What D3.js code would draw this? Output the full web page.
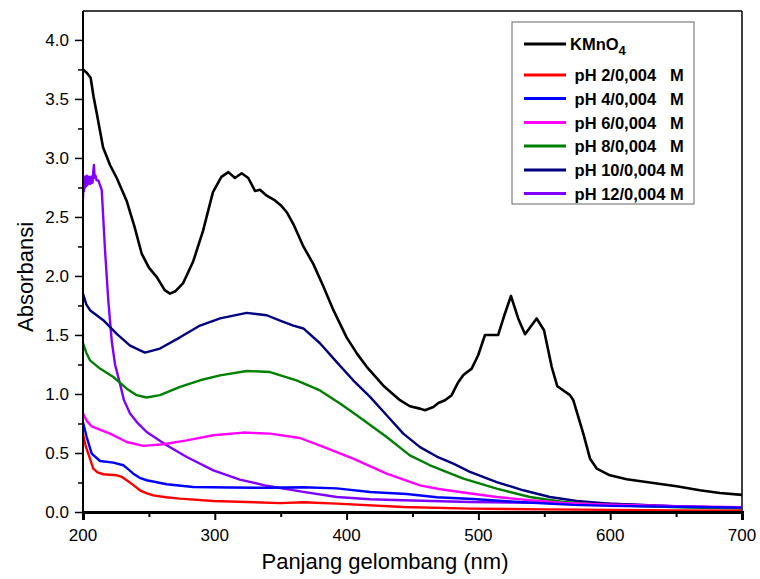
<!DOCTYPE html>
<html>
<head>
<meta charset="utf-8">
<script src="https://cdn.jsdelivr.net/npm/d3@7"></script>
<style>
  body { margin: 0; background: #fff; }
  text { font-family: "Liberation Sans", Arial, sans-serif; }
</style>
</head>
<body>
<div id="chart"></div>
<script>
// data (wavelength nm, absorbance)
var kmno4 = [[200,3.75],[203,3.72],[205.8,3.68],[208,3.52],[210.4,3.38],[215.2,3.09],[220.5,2.94],[225.6,2.83],[233,2.64],[239,2.42],[244.5,2.19],[250,2.07],[256,1.99],[262,1.88],[266,1.85],[270,1.87],[276,1.94],[283.5,2.12],[291,2.38],[298.6,2.71],[305,2.84],[310.3,2.88],[315.3,2.83],[320.4,2.87],[325.4,2.83],[330.5,2.72],[334.3,2.73],[339.4,2.68],[345.7,2.64],[350,2.6],[354.6,2.54],[359.6,2.44],[367.2,2.25],[374.8,2.1],[382.4,1.91],[390,1.71],[400,1.48],[408,1.34],[415.3,1.23],[427.9,1.07],[440.5,0.947],[448,0.896],[455.7,0.876],[459.5,0.862],[465.8,0.89],[469.6,0.924],[474.7,0.947],[479.7,0.99],[484.7,1.1],[488.6,1.16],[494.9,1.215],[499.9,1.33],[505,1.5],[515,1.5],[520.1,1.68],[524.7,1.83],[530.2,1.64],[535.4,1.506],[544.2,1.64],[549.8,1.54],[555.6,1.23],[559.9,1.065],[569.5,0.99],[572,0.947],[575.8,0.805],[579.6,0.664],[584.7,0.452],[589.8,0.368],[599.8,0.311],[612.5,0.277],[632.7,0.246],[650.4,0.218],[668,0.184],[683.2,0.161],[700,0.145]];

var ph2 = [[200,0.66],[202,0.56],[204,0.495],[207.8,0.368],[211,0.335],[215.4,0.32],[225.6,0.311],[229,0.3],[233.2,0.269],[238,0.23],[243.2,0.184],[248,0.16],[253.3,0.141],[263,0.125],[273.6,0.113],[298.9,0.093],[324.2,0.085],[349.5,0.075],[367.2,0.082],[392.5,0.071],[443,0.042],[493.6,0.029],[550,0.022],[600,0.018],[650,0.014],[700,0.012]];

var ph4 = [[200,0.76],[202.8,0.635],[206.6,0.495],[212.9,0.432],[223,0.418],[230.6,0.396],[234,0.365],[238.2,0.325],[243,0.29],[248.3,0.269],[263.5,0.235],[283.7,0.212],[311.5,0.207],[339.4,0.205],[367.2,0.21],[392.5,0.2],[417.8,0.17],[445.6,0.152],[468.4,0.125],[496,0.11],[530,0.085],[572,0.06],[600,0.052],[650,0.044],[700,0.037]];

var ph6 = [[200,0.835],[203,0.77],[206.6,0.726],[220.5,0.664],[233.2,0.593],[245.8,0.56],[261,0.574],[278.7,0.607],[298.9,0.65],[321.6,0.673],[341.9,0.664],[364.6,0.627],[382.4,0.551],[405,0.452],[430.4,0.325],[455.7,0.226],[470,0.195],[488.6,0.165],[513.9,0.127],[539,0.1],[564.4,0.076],[600,0.062],[650,0.05],[700,0.04]];

var ph8 = [[200,1.43],[202.5,1.35],[205.3,1.285],[212.9,1.215],[223,1.144],[233.2,1.045],[240.7,0.99],[248.3,0.97],[258.4,0.99],[273.6,1.06],[288.8,1.116],[304,1.158],[324.2,1.195],[341.9,1.186],[362,1.116],[379.8,1.03],[395,0.92],[407.7,0.82],[430.4,0.636],[448,0.48],[463.3,0.396],[488.6,0.283],[513.9,0.198],[539,0.127],[564.4,0.085],[589.7,0.065],[620,0.05],[660,0.037],[700,0.03]];

var ph10 = [[200,1.85],[202.5,1.76],[205.3,1.71],[215.4,1.625],[225.6,1.51],[235.7,1.41],[247,1.35],[258.4,1.385],[273.6,1.48],[288.8,1.58],[304,1.64],[324.2,1.687],[339.4,1.667],[350,1.62],[359.6,1.58],[367.2,1.555],[379.8,1.43],[392.5,1.27],[405,1.116],[417.8,0.975],[430.4,0.82],[443,0.664],[455.7,0.55],[468.4,0.47],[481,0.41],[493.6,0.34],[513.9,0.254],[534,0.184],[554.3,0.127],[574.6,0.093],[600,0.07],[650,0.048],[700,0.035]];

var ph12 = [[200,2.65],[200.4,2.8],[200.8,2.72],[201.2,2.84],[201.6,2.75],[202,2.83],[202.4,2.76],[202.8,2.85],[203.2,2.77],[203.6,2.83],[204,2.78],[204.4,2.84],[204.8,2.79],[205.2,2.82],[205.6,2.78],[206,2.84],[206.4,2.8],[206.8,2.82],[207.2,2.79],[207.6,2.86],[208.3,2.94],[208.8,2.83],[209.5,2.85],[210.3,2.81],[211.6,2.81],[214.2,2.73],[216.7,2.22],[219.2,1.79],[221.8,1.45],[224.3,1.25],[228,1.09],[231,0.95],[235.7,0.834],[241,0.76],[248.3,0.678],[263.5,0.565],[278.7,0.466],[298.9,0.353],[319,0.275],[339.4,0.222],[367.2,0.17],[392.5,0.127],[417.8,0.108],[443,0.099],[493.6,0.085],[550,0.077],[600,0.07],[650,0.05],[700,0.035]];

var series = [
  {name: "KMnO", sub: "4", values: kmno4, color: "#000000"},
  {name: " pH 2/0,004   M", values: ph2, color: "#ff0000"},
  {name: " pH 4/0,004   M", values: ph4, color: "#0000ff"},
  {name: " pH 6/0,004   M", values: ph6, color: "#ff00ff"},
  {name: " pH 8/0,004   M", values: ph8, color: "#008000"},
  {name: " pH 10/0,004 M", values: ph10, color: "#000080"},
  {name: " pH 12/0,004 M", values: ph12, color: "#8000ff"}
];

var xTicks = [200, 300, 400, 500, 600, 700];
var yTicks = [0, 0.5, 1, 1.5, 2, 2.5, 3, 3.5, 4];

// set the dimensions and margins of the graph
var margin = {top: 11, right: 18, bottom: 67, left: 83},
    width = 760 - margin.left - margin.right,
    height = 579 - margin.top - margin.bottom;

var svg = d3.select("#chart")
  .append("svg")
    .attr("width", 760)
    .attr("height", 579)
  .append("g")
    .attr("transform", "translate(" + margin.left + "," + margin.top + ")");

var x = d3.scaleLinear().domain([200, 700]).range([0, width]);
var y = d3.scaleLinear().domain([0, 4.245]).range([height, 0]);

svg.append("clipPath").attr("id", "clip")
  .append("rect").attr("width", width).attr("height", height);

// frame top and right
svg.append("line").attr("x1", 0).attr("x2", width).attr("y1", 0).attr("y2", 0)
  .attr("stroke", "#000").attr("stroke-width", 1.5);
svg.append("line").attr("x1", width).attr("x2", width).attr("y1", 0).attr("y2", height)
  .attr("stroke", "#000").attr("stroke-width", 1.5);

// lines
var line = d3.line()
  .x(function(d) { return x(d[0]); })
  .y(function(d) { return y(d[1]); });

var lg = svg.append("g").attr("clip-path", "url(#clip)");
series.slice().reverse().forEach(function(s) {
  lg.append("path")
    .datum(s.values)
    .attr("fill", "none")
    .attr("stroke", s.color)
    .attr("stroke-width", s.color == "#000000" ? 2.6 : 2.4)
    .attr("stroke-linejoin", "round")
    .attr("d", line);
});

// X axis
var xAxis = svg.append("g")
  .attr("transform", "translate(0," + height + ")");
xAxis.call(d3.axisBottom(x).tickValues(d3.range(200, 701, 50)).tickSize(8).tickFormat(""));
xAxis.selectAll(".tick line").attr("stroke-width", 2)
  .attr("y2", function(d) { return d % 100 == 0 ? 8 : 5; });
xAxis.select(".domain").attr("stroke-width", 3);
xAxis.selectAll(".tlab").data(xTicks).enter().append("text")
  .attr("class", "tlab")
  .attr("x", function(d) { return x(d); })
  .attr("y", 29)
  .attr("text-anchor", "middle")
  .attr("font-size", 17)
  .attr("fill", "#000")
  .text(function(d) { return d; });

// Y axis
var yAxis = svg.append("g");
yAxis.call(d3.axisLeft(y).tickValues(d3.range(0, 4.01, 0.25)).tickSize(8).tickFormat(""));
yAxis.selectAll(".tick line").attr("stroke-width", 1.5)
  .attr("x2", function(d, i) { return i % 2 == 0 ? -8 : -5; });
yAxis.select(".domain").attr("stroke-width", 2).attr("d", "M0," + y(4.245) + "V" + height);
yAxis.selectAll(".tlab").data(yTicks).enter().append("text")
  .attr("class", "tlab")
  .attr("x", -14)
  .attr("y", function(d) { return y(d) + 6; })
  .attr("text-anchor", "end")
  .attr("font-size", 17)
  .attr("fill", "#000")
  .text(function(d) { return d.toFixed(1); });

// axis titles
svg.append("text")
  .attr("x", 385 - margin.left)
  .attr("y", 569 - margin.top)
  .attr("text-anchor", "middle")
  .attr("font-size", 22)
  .text("Panjang gelombang (nm)");
svg.append("text")
  .attr("transform", "translate(" + (33 - margin.left) + "," + (277 - margin.top) + ") rotate(-90)")
  .attr("text-anchor", "middle")
  .attr("font-size", 22)
  .text("Absorbansi");

// legend
var legend = svg.append("g").attr("transform", "translate(" + (512 - margin.left) + "," + (22 - margin.top) + ")");
legend.append("rect").attr("width", 182).attr("height", 182)
  .attr("fill", "#fff").attr("stroke", "#666").attr("stroke-width", 1);
var rowY = [22, 53, 76.5, 100.5, 124, 148, 171.5];
series.forEach(function(s, i) {
  legend.append("line")
    .attr("x1", 12).attr("x2", 54)
    .attr("y1", rowY[i]).attr("y2", rowY[i])
    .attr("stroke", s.color).attr("stroke-width", 3);
  var t = legend.append("text")
    .attr("x", 58)
    .attr("y", rowY[i] + 6)
    .attr("font-size", 16.5)
    .attr("font-weight", "bold")
    .attr("xml:space", "preserve")
    .style("white-space", "pre")
    .text(s.name);
  if (s.sub) {
    t.append("tspan").attr("dy", 5).attr("font-size", 13).text(s.sub);
  }
});
</script>
</body>
</html>
